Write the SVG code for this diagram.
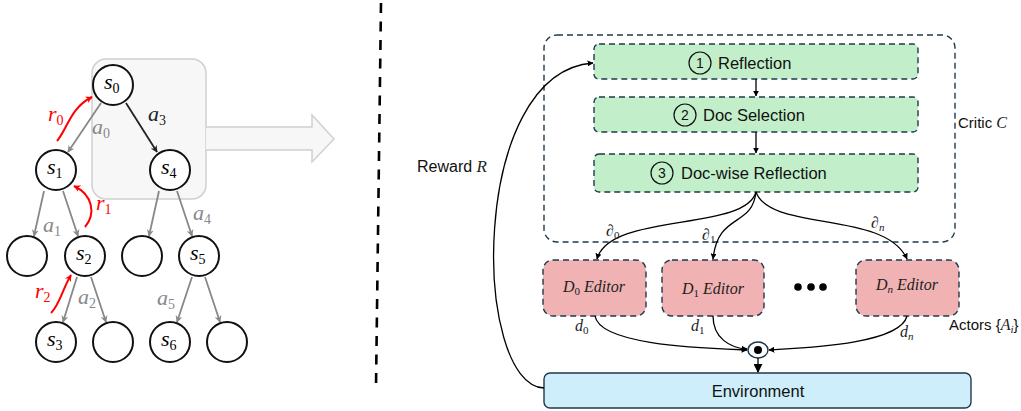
<svg xmlns="http://www.w3.org/2000/svg" width="1021" height="411" viewBox="0 0 1021 411">
<defs>
<marker id="ag" viewBox="0 0 10 10" refX="9" refY="5" markerWidth="7" markerHeight="7" orient="auto-start-reverse" markerUnits="userSpaceOnUse"><path d="M0,0 L10,5 L0,10 L3,5 Z" fill="#888"/></marker>
<marker id="ak" viewBox="0 0 10 10" refX="9" refY="5" markerWidth="7" markerHeight="7" orient="auto-start-reverse" markerUnits="userSpaceOnUse"><path d="M0,0 L10,5 L0,10 L3,5 Z" fill="#222"/></marker>
<marker id="ar" viewBox="0 0 10 10" refX="9" refY="5" markerWidth="7" markerHeight="7" orient="auto-start-reverse" markerUnits="userSpaceOnUse"><path d="M0,0 L10,5 L0,10 L3,5 Z" fill="#f00"/></marker>
<marker id="ab" viewBox="0 0 10 10" refX="9" refY="5" markerWidth="6" markerHeight="6" orient="auto-start-reverse" markerUnits="userSpaceOnUse"><path d="M0,0 L10,5 L0,10 Z" fill="#000"/></marker>
<marker id="abig" viewBox="0 0 10 10" refX="9" refY="5" markerWidth="9" markerHeight="9" orient="auto-start-reverse" markerUnits="userSpaceOnUse"><path d="M0,0 L10,5 L0,10 Z" fill="#000"/></marker>
</defs>
<style>
.st{fill:#fff;stroke:#111;stroke-width:2}
.eg{stroke:#888;stroke-width:1.8;fill:none;marker-end:url(#ag)}
.ek{stroke:#222;stroke-width:1.8;fill:none;marker-end:url(#ak)}
.er{stroke:#f00;stroke-width:2;fill:none;marker-end:url(#ar)}
.m{font-family:"Liberation Serif","DejaVu Serif",serif;font-style:italic;font-size:22px}
.sub{font-family:"Liberation Serif","DejaVu Serif",serif;font-style:normal;font-size:14px}
.gr{fill:#888}
.rd{fill:#f00}
.dash{stroke:#1e3a4c;stroke-width:1.4;stroke-dasharray:6 4}
.green{fill:#c2efc9}
.pink{fill:#f0b2b2}
.lbl{font-family:"Liberation Sans","Arial",sans-serif;font-size:16.5px;fill:#111}
.num{font-family:"Liberation Sans","Arial",sans-serif;font-size:14px;fill:#111}
.nc{fill:none;stroke:#111;stroke-width:1.2}
.sm{font-family:"Liberation Sans","Arial",sans-serif;font-size:15px;fill:#111}
.mi{font-family:"Liberation Serif","DejaVu Serif",serif;font-style:italic;font-size:16px;fill:#222}
.ms{font-family:"Liberation Serif","DejaVu Serif",serif;font-style:normal;font-size:11px;fill:#222}
.msi{font-family:"Liberation Serif","DejaVu Serif",serif;font-style:italic;font-size:11px;fill:#222}
.cn{stroke:#000;stroke-width:1.3;fill:none;marker-end:url(#ab)}
</style>

<!-- Left: tree -->
<g id="highlight">
<rect x="92" y="59" width="114" height="140" rx="14" fill="#f7f7f7" stroke="#d0d0d0" stroke-width="1.5"/>
<path d="M206,127 L312,127 L312,115 L334,139 L312,162 L312,150 L206,150" fill="#f7f7f7" stroke="#d0d0d0" stroke-width="1.5"/>
</g>

<g id="tree-edges">
<line class="eg" x1="101" y1="103" x2="68" y2="152"/>
<line class="ek" x1="126" y1="103" x2="157" y2="152"/>
<line class="eg" x1="44" y1="191" x2="34" y2="236"/>
<line class="eg" x1="63" y1="191" x2="78" y2="236"/>
<line class="eg" x1="159" y1="191" x2="149" y2="236"/>
<line class="eg" x1="177" y1="191" x2="192" y2="236"/>
<line class="eg" x1="77" y1="277" x2="63" y2="322"/>
<line class="eg" x1="91" y1="277" x2="106" y2="322"/>
<line class="eg" x1="192" y1="277" x2="177" y2="322"/>
<line class="eg" x1="205" y1="277" x2="220" y2="322"/>
<path class="er" d="M57,141 C68,128 70,108 92,97"/>
<path class="er" d="M85,227 C96,214 93,195 74,186"/>
<path class="er" d="M51,313 C60,304 62,290 71,275"/>
</g>

<g id="tree-labels">
<text class="m gr" x="92" y="134">a<tspan class="sub" dy="4">0</tspan></text>
<text class="m" x="148" y="121" fill="#222">a<tspan class="sub" dy="4">3</tspan></text>
<text class="m gr" x="43" y="232">a<tspan class="sub" dy="4">1</tspan></text>
<text class="m gr" x="193" y="220">a<tspan class="sub" dy="4">4</tspan></text>
<text class="m gr" x="78" y="304">a<tspan class="sub" dy="4">2</tspan></text>
<text class="m gr" x="157" y="305">a<tspan class="sub" dy="4">5</tspan></text>
<text class="m rd" x="48" y="121">r<tspan class="sub" dy="4">0</tspan></text>
<text class="m rd" x="96" y="210">r<tspan class="sub" dy="4">1</tspan></text>
<text class="m rd" x="35" y="298">r<tspan class="sub" dy="4">2</tspan></text>
</g>

<g id="s0"><circle class="st" cx="113" cy="85" r="20"/><text class="m" x="104" y="89">s<tspan class="sub" dy="4">0</tspan></text></g>
<g id="s1"><circle class="st" cx="56" cy="170" r="20"/><text class="m" x="47" y="174">s<tspan class="sub" dy="4">1</tspan></text></g>
<g id="s4"><circle class="st" cx="170" cy="170" r="20"/><text class="m" x="161" y="174">s<tspan class="sub" dy="4">4</tspan></text></g>
<g id="n-a"><circle class="st" cx="27" cy="256" r="20"/></g>
<g id="s2"><circle class="st" cx="85" cy="256" r="20"/><text class="m" x="76" y="260">s<tspan class="sub" dy="4">2</tspan></text></g>
<g id="n-b"><circle class="st" cx="142" cy="256" r="20"/></g>
<g id="s5"><circle class="st" cx="199" cy="256" r="20"/><text class="m" x="190" y="260">s<tspan class="sub" dy="4">5</tspan></text></g>
<g id="s3"><circle class="st" cx="56" cy="342" r="20"/><text class="m" x="47" y="346">s<tspan class="sub" dy="4">3</tspan></text></g>
<g id="n-c"><circle class="st" cx="113" cy="342" r="20"/></g>
<g id="s6"><circle class="st" cx="170" cy="342" r="20"/><text class="m" x="161" y="346">s<tspan class="sub" dy="4">6</tspan></text></g>
<g id="n-d"><circle class="st" cx="227" cy="342" r="20"/></g>

<!-- divider -->
<line x1="381" y1="3" x2="376" y2="387" stroke="#000" stroke-width="2.6" stroke-dasharray="10 8.5"/>

<!-- Right side -->
<g id="critic">
<rect class="dash" x="544" y="35" width="411" height="207" rx="13" fill="none"/>
<text class="sm" x="958" y="128">Critic <tspan class="mi">C</tspan></text>
</g>

<g id="reflection">
<rect class="dash green" x="594" y="44" width="324" height="35" rx="5"/>
<circle class="nc" cx="700" cy="63" r="11"/><text class="num" x="700" y="68" text-anchor="middle">1</text>
<text class="lbl" x="718" y="69">Reflection</text>
</g>
<g id="doc-selection">
<rect class="dash green" x="594" y="97" width="324" height="35" rx="5"/>
<circle class="nc" cx="685" cy="115" r="11"/><text class="num" x="685" y="120" text-anchor="middle">2</text>
<text class="lbl" x="703" y="121">Doc Selection</text>
</g>
<g id="doc-wise-reflection">
<rect class="dash green" x="594" y="154" width="324" height="38" rx="5"/>
<circle class="nc" cx="662" cy="173" r="11"/><text class="num" x="662" y="178" text-anchor="middle">3</text>
<text class="lbl" x="681" y="179">Doc-wise Reflection</text>
</g>

<g id="d0-editor">
<rect class="dash pink" x="543" y="260" width="103" height="56" rx="10"/>
<text class="mi" x="594" y="292" text-anchor="middle">D<tspan class="ms" dy="3">0</tspan><tspan dy="-3"> Editor</tspan></text>
</g>
<g id="d1-editor">
<rect class="dash pink" x="662" y="260" width="102" height="56" rx="10"/>
<text class="mi" x="713" y="294" text-anchor="middle">D<tspan class="ms" dy="3">1</tspan><tspan dy="-3"> Editor</tspan></text>
</g>
<g id="dn-editor">
<rect class="dash pink" x="856" y="260" width="103" height="56" rx="10"/>
<text class="mi" x="907" y="290" text-anchor="middle">D<tspan class="msi" dy="3">n</tspan><tspan dy="-3"> Editor</tspan></text>
</g>
<g id="ellipsis">
<circle cx="798" cy="287" r="3.8" fill="#000"/><circle cx="811" cy="287" r="3.8" fill="#000"/><circle cx="823" cy="287" r="3.8" fill="#000"/>
</g>
<text class="sm" x="949" y="330">Actors {<tspan class="mi">A</tspan><tspan class="msi" dy="3">i</tspan><tspan dy="-3">}</tspan></text>

<g id="merge">
<ellipse cx="758" cy="350" rx="10" ry="8" fill="#fff" stroke="#1e3a4c" stroke-width="1.4"/>
<circle cx="758" cy="350" r="4" fill="#000"/>
</g>

<g id="environment">
<rect x="544" y="373" width="427" height="35" rx="6" fill="#cdeefa" stroke="#1e3a4c" stroke-width="1.4"/>
<text class="lbl" x="758" y="397" text-anchor="middle">Environment</text>
</g>

<g id="connectors">
<line class="cn" x1="756" y1="79" x2="756" y2="96"/>
<line class="cn" x1="756" y1="132" x2="756" y2="153"/>
<path class="cn" d="M756,192 C745,232 610,212 597,259"/>
<path class="cn" d="M756,192 C752,228 718,212 713,259"/>
<path class="cn" d="M756,192 C770,232 885,210 907,259"/>
<path class="cn" d="M595,316 C600,345 700,348 747,350"/>
<path class="cn" d="M713,316 C713,338 730,348 747,349"/>
<path class="cn" d="M907,316 C900,345 800,348 769,350"/>
<line x1="758" y1="358" x2="758" y2="372" stroke="#000" stroke-width="1.3" marker-end="url(#abig)"/>
<path class="cn" d="M544,388 C472,385 468,72 593,63"/>
<text class="mi" x="606" y="236">∂<tspan class="ms" dy="3">0</tspan></text>
<text class="mi" x="702" y="240">∂<tspan class="ms" dy="3">1</tspan></text>
<text class="mi" x="871" y="228">∂<tspan class="msi" dy="3">n</tspan></text>
<text class="mi" x="575" y="331">d<tspan class="ms" dy="3">0</tspan></text>
<text class="mi" x="691" y="331">d<tspan class="ms" dy="3">1</tspan></text>
<text class="mi" x="900" y="337">d<tspan class="msi" dy="3">n</tspan></text>
<text class="sm" x="417" y="172" style="font-size:16px">Reward <tspan class="mi" style="font-size:17px">R</tspan></text>
</g>
</svg>
